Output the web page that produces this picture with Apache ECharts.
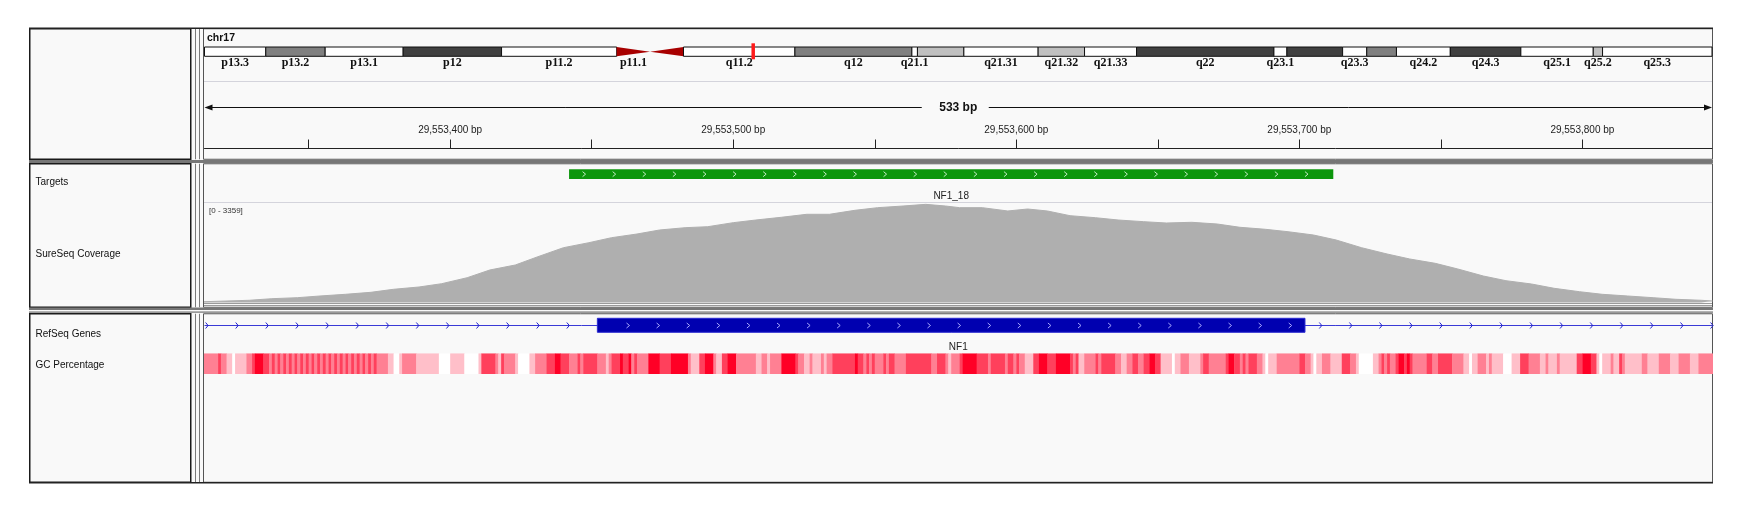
<!DOCTYPE html>
<html>
<head>
<meta charset="utf-8">
<script src="https://cdn.jsdelivr.net/npm/echarts@6/dist/echarts.min.js"></script>
<style>
html, body { margin: 0; padding: 0; background: #fff; }
#igv { width: 1749px; height: 513px; }
</style>
</head>
<body>
<div id="igv"></div>
<script>
// chromosome ideogram (hg19 chr17 bands)
var chrName = 'chr17';
var chrLength = 81195210;
var bandStarts = [0, 3300000, 6500000, 10700000, 16000000, 22200000, 24000000, 25800000, 31800000, 38100000, 38400000, 40900000,
    44900000, 47400000, 50200000, 57600000, 58300000, 61300000, 62600000, 64200000, 67100000, 70900000, 74800000, 75300000];
var bandNames = ['p13.3', 'p13.2', 'p13.1', 'p12', 'p11.2', 'p11.1', 'q11.1', 'q11.2', 'q12', 'q21.1', 'q21.2', 'q21.31',
    'q21.32', 'q21.33', 'q22', 'q23.1', 'q23.2', 'q23.3', 'q24.1', 'q24.2', 'q24.3', 'q25.1', 'q25.2', 'q25.3'];
var bandStains = ['gneg', 'gpos50', 'gneg', 'gpos75', 'gneg', 'acen', 'acen', 'gneg', 'gpos50', 'gneg', 'gpos25', 'gneg',
    'gpos25', 'gneg', 'gpos75', 'gneg', 'gpos75', 'gneg', 'gpos50', 'gneg', 'gpos75', 'gneg', 'gpos25', 'gneg'];

// visible window
var viewStart = 29553313.2;
var viewEnd = 29553845.8;
var rulerTicks = [29553350, 29553400, 29553450, 29553500, 29553550, 29553600, 29553650, 29553700, 29553750, 29553800];
var rulerLabels = [29553400, 29553500, 29553600, 29553700, 29553800];

// Targets track
var targetNames = ['NF1_18'];
var targetStarts = [29553442];
var targetEnds = [29553712];

// SureSeq Coverage (offsets from covOrigin)
var covOrigin = 29553313;
var covMax = 3359;
var covOffsets = [0, 16, 24, 33, 41, 50, 59, 67, 76, 84, 93, 101, 110, 118, 127, 136, 144, 153, 161, 170,
    178, 187, 195, 204, 213, 221, 230, 238, 247, 255, 262, 267, 275, 284, 291, 298, 306, 315, 323, 332,
    340, 349, 358, 366, 375, 383, 392, 400, 409, 418, 426, 435, 443, 452, 460, 469, 477, 486, 494, 503,
    512, 520, 529, 533];
var covValues = [27, 75, 129, 163, 221, 278, 346, 448, 526, 638, 841, 1103, 1272, 1554, 1859, 2029, 2199, 2324, 2460, 2538,
    2572, 2708, 2799, 2891, 2993, 2993, 3128, 3217, 3274, 3330, 3274, 3217, 3217, 3105, 3172, 3105, 2945, 2877, 2799, 2742,
    2697, 2721, 2663, 2552, 2484, 2402, 2290, 2121, 1859, 1646, 1476, 1330, 1137, 899, 740, 628, 482, 366, 278, 221,
    163, 109, 75, 51];

// RefSeq Genes
var geneName = 'NF1';
var geneStart = 29421945;
var geneEnd = 29709134;
var exonStarts = [29553452];
var exonEnds = [29553702];

// GC Percentage: [offset from gcOrigin, percent], each run lasts to the next offset
var gcOrigin = 29553313;
var gcLast = 534;
var gcRuns = [[0, 50], [5, 75], [6, 50], [8, 25], [10, 0], [11, 25], [15, 50], [17, 75], [18, 100], [21, 75],
    [23, 50], [24, 75], [25, 50], [26, 75], [27, 50], [28, 75], [29, 50], [30, 75], [31, 50], [32, 75],
    [33, 50], [34, 75], [35, 50], [36, 75], [37, 50], [38, 75], [39, 50], [40, 75], [41, 50], [42, 75],
    [43, 50], [44, 75], [45, 50], [46, 75], [47, 50], [48, 75], [49, 50], [50, 75], [51, 50], [52, 75],
    [53, 50], [54, 75], [55, 50], [56, 75], [57, 50], [58, 75], [59, 50], [60, 75], [61, 50],
    [65, 25], [67, 0], [69, 25], [70, 50], [75, 25], [83, 0], [87, 25], [92, 0], [97, 25], [98, 75],
    [103, 50], [104, 25], [105, 75], [106, 50], [110, 25], [111, 0], [115, 25], [117, 50], [121, 75], [124, 100],
    [126, 75], [129, 50], [132, 75], [133, 50], [134, 75], [139, 50], [142, 25], [143, 50], [144, 75], [147, 100],
    [148, 75], [150, 100], [151, 50], [152, 75], [153, 50], [157, 100], [161, 75], [165, 100], [171, 50], [172, 25],
    [175, 75], [177, 100], [180, 50], [181, 25], [183, 75], [185, 100], [188, 50], [195, 25], [197, 50], [199, 25],
    [200, 50], [204, 100], [209, 75], [210, 50], [212, 25], [214, 50], [215, 25], [218, 50], [219, 25], [220, 50],
    [222, 75], [230, 100], [231, 75], [233, 50], [234, 75], [235, 50], [236, 75], [237, 50], [240, 75], [241, 50],
    [242, 75], [244, 50], [248, 75], [257, 50], [259, 75], [262, 50], [263, 25], [264, 50], [267, 75], [268, 100],
    [273, 75], [277, 50], [278, 75], [283, 50], [284, 75], [286, 50], [287, 75], [288, 50], [290, 25], [293, 75],
    [295, 100], [298, 75], [301, 100], [306, 75], [307, 50], [308, 75], [309, 25], [311, 50], [315, 75], [316, 50],
    [317, 75], [322, 50], [324, 25], [326, 50], [328, 75], [330, 50], [332, 75], [334, 100], [336, 75], [338, 25],
    [342, 0], [343, 25], [345, 50], [348, 25], [352, 50], [353, 75], [355, 50], [361, 75], [362, 100], [364, 75],
    [366, 50], [367, 75], [368, 50], [369, 75], [372, 50], [374, 25], [375, 0], [376, 25], [379, 50], [387, 75],
    [389, 50], [391, 25], [392, 0], [393, 25], [395, 50], [398, 25], [402, 75], [405, 50], [407, 25], [408, 0],
    [413, 25], [415, 50], [416, 75], [417, 50], [418, 75], [419, 50], [421, 75], [422, 100], [424, 75], [425, 100],
    [426, 75], [427, 50], [432, 75], [434, 50], [436, 75], [441, 50], [445, 25], [447, 0], [448, 25], [450, 50],
    [453, 25], [454, 50], [455, 25], [459, 0], [462, 25], [465, 75], [468, 50], [472, 25], [474, 50], [475, 25],
    [478, 50], [479, 25], [485, 75], [487, 100], [490, 75], [492, 25], [493, 0], [494, 25], [497, 50], [498, 25],
    [500, 75], [501, 50], [502, 25], [508, 50], [510, 25], [514, 50], [518, 25], [521, 50], [525, 25], [528, 50]];

var trackNames = ['Targets', 'SureSeq Coverage', 'RefSeq Genes', 'GC Percentage'];

var stainColors = { gneg: '#ffffff', gpos25: '#c0c0c0', gpos50: '#808080', gpos75: '#404040', acen: '#a80000' };
var FONT = '"Liberation Sans", Arial, sans-serif';

var chart = echarts.init(document.getElementById('igv'), null, { renderer: 'canvas' });

var bandData = bandStarts.map(function (s, i) {
    return [s, i < bandStarts.length - 1 ? bandStarts[i + 1] : chrLength];
});
var covData = covOffsets.map(function (o, i) { return [covOrigin + o, covValues[i]]; });
var gcData = gcRuns.map(function (r, i) {
    var end = i < gcRuns.length - 1 ? gcRuns[i + 1][0] : gcLast;
    return [gcOrigin + r[0], gcOrigin + end, r[1]];
});
var targetData = targetStarts.map(function (s, i) { return [s, targetEnds[i]]; });

function fmtBp(v) {
    return Math.round(v).toString().replace(/\B(?=(\d{3})+(?!\d))/g, ',') + ' bp';
}

var lastLabelEnd = -1e9;
function renderBand(params, api) {
    if (params.dataIndex === 0) lastLabelEnd = -1e9;
    var a = api.coord([api.value(0), 1]);
    var b = api.coord([api.value(1), 0]);
    var stain = bandStains[params.dataIndex];
    var name = bandNames[params.dataIndex];
    var kids = [];
    if (stain === 'acen') {
        var midY = (a[1] + b[1]) / 2;
        var pts = name.charAt(0) === 'p'
            ? [[a[0], a[1]], [b[0], midY], [a[0], b[1]]]
            : [[b[0], a[1]], [a[0], midY], [b[0], b[1]]];
        kids.push({ type: 'polygon', shape: { points: pts }, style: { fill: stainColors.acen } });
    } else {
        kids.push({
            type: 'rect',
            shape: { x: a[0], y: a[1], width: b[0] - a[0], height: b[1] - a[1] },
            style: { fill: stainColors[stain], stroke: '#111', lineWidth: 1 }
        });
    }
    // skip labels that would crowd the previous one
    var cx = (a[0] + b[0]) / 2;
    var w = name.length * 6;
    if (cx - w / 2 > lastLabelEnd + 8) {
        kids.push({
            type: 'text',
            style: {
                x: cx, y: b[1] + 6.5, text: name, align: 'center', verticalAlign: 'middle',
                font: 'bold 12px "Liberation Serif", "Times New Roman", serif', fill: '#111'
            }
        });
        lastLabelEnd = cx + w / 2;
    }
    return { type: 'group', children: kids };
}

function renderMarker(params, api) {
    var a = api.coord([api.value(0), 1]);
    var b = api.coord([api.value(1), 0]);
    var w = Math.max(3.5, b[0] - a[0]);
    var cx = (a[0] + b[0]) / 2;
    return {
        type: 'rect',
        shape: { x: cx - w / 2, y: a[1] - 3.7, width: w, height: b[1] - a[1] + 6.7 },
        style: { fill: '#ff1a1a' }
    };
}

function renderSpan(params, api) {
    var a = api.coord([api.value(0), 0.85]);
    var b = api.coord([api.value(1), 0.85]);
    var y = Math.round(a[1]) + 0.5;
    var cx = (a[0] + b[0]) / 2;
    var txt = Math.round(api.value(1) - api.value(0)) + ' bp';
    var ls = { stroke: '#111', lineWidth: 1 };
    return {
        type: 'group',
        children: [
            { type: 'line', shape: { x1: a[0] + 4, y1: y, x2: cx - 36.5, y2: y }, style: ls },
            { type: 'line', shape: { x1: cx + 30.5, y1: y, x2: b[0] - 4, y2: y }, style: ls },
            { type: 'polygon', shape: { points: [[a[0], y], [a[0] + 8, y - 3], [a[0] + 8, y + 3]] }, style: { fill: '#111' } },
            { type: 'polygon', shape: { points: [[b[0], y], [b[0] - 8, y - 3], [b[0] - 8, y + 3]] }, style: { fill: '#111' } },
            {
                type: 'text',
                style: { x: cx, y: y, text: txt, align: 'center', verticalAlign: 'middle', font: 'bold 12px ' + FONT, fill: '#111' }
            }
        ]
    };
}

function renderTarget(params, api) {
    var a = api.coord([api.value(0), 1]);
    var b = api.coord([api.value(1), 0]);
    var cy = (a[1] + b[1]) / 2;
    var kids = [{
        type: 'rect',
        shape: { x: a[0], y: a[1], width: b[0] - a[0], height: b[1] - a[1] },
        style: { fill: '#0c960c' }
    }];
    for (var x = a[0] + 15; x < b[0] - 6; x += 30.1) {
        kids.push({
            type: 'polyline',
            shape: { points: [[x - 1.5, cy - 2.5], [x + 1.5, cy], [x - 1.5, cy + 2.5]] },
            style: { stroke: '#c4ecc4', lineWidth: 1, fill: null }
        });
    }
    kids.push({
        type: 'text',
        style: {
            x: (a[0] + b[0]) / 2, y: b[1] + 17, text: targetNames[params.dataIndex],
            align: 'center', verticalAlign: 'middle', font: '10px ' + FONT, fill: '#222'
        }
    });
    return { type: 'group', children: kids };
}

function renderGene(params, api) {
    var cs = params.coordSys;
    var g0 = Math.max(api.coord([api.value(0), 0])[0], cs.x);
    var g1 = Math.min(api.coord([api.value(1), 0])[0], cs.x + cs.width);
    var e0 = api.coord([api.value(2), 1]);
    var e1 = api.coord([api.value(3), 0]);
    var cy = Math.round(cs.y + cs.height / 2) + 0.5;
    var kids = [{ type: 'line', shape: { x1: g0, y1: cy, x2: g1, y2: cy }, style: { stroke: '#3a3ad6', lineWidth: 1 } }];
    var x;
    for (x = cs.x + 2.1; x < g1; x += 30.1) {
        if (x > e0[0] - 2 && x < e1[0] + 2) continue;
        kids.push({
            type: 'polyline',
            shape: { points: [[x - 1, cy - 3], [x + 1.5, cy], [x - 1, cy + 3]] },
            style: { stroke: '#2020d0', lineWidth: 1, fill: null }
        });
    }
    kids.push({
        type: 'rect',
        shape: { x: e0[0], y: e0[1], width: e1[0] - e0[0], height: e1[1] - e0[1] },
        style: { fill: '#0000b0', stroke: '#2a2ad0', lineWidth: 1 }
    });
    for (x = cs.x + 2.1; x < e1[0] - 4; x += 30.1) {
        if (x < e0[0] + 4) continue;
        kids.push({
            type: 'polyline',
            shape: { points: [[x - 1.5, cy - 2.5], [x + 1.5, cy], [x - 1.5, cy + 2.5]] },
            style: { stroke: '#a8a8ff', lineWidth: 1, fill: null }
        });
    }
    kids.push({
        type: 'text',
        style: {
            x: (g0 + g1) / 2, y: cs.y + cs.height + 15, text: geneName,
            align: 'center', verticalAlign: 'middle', font: '10px ' + FONT, fill: '#222'
        }
    });
    return { type: 'group', children: kids };
}

function renderGC(params, api) {
    var a = api.coord([api.value(0), 1]);
    var b = api.coord([api.value(1), 0]);
    return {
        type: 'rect',
        shape: { x: a[0], y: a[1], width: b[0] - a[0] + 0.4, height: b[1] - a[1] },
        style: { fill: api.visual('color') }
    };
}

var L = 204.5, RIGHT = 37;
function gx(i, min, max) {
    return { gridIndex: i, type: 'value', min: min, max: max, show: false };
}
function gy(i, max) {
    return { gridIndex: i, type: 'value', min: 0, max: max, show: false };
}

// panel furniture
var panels = [[28.75, 159.25], [163.75, 307.25], [313.75, 482.25]];
var deco = [{ type: 'rect', shape: { x: 29, y: 28, width: 1684, height: 455 }, style: { fill: '#f9f9f9' } }];
panels.forEach(function (p) {
    deco.push({ type: 'rect', shape: { x: 29.75, y: p[0], width: 161, height: p[1] - p[0] }, style: { fill: null, stroke: '#1a1a1a', lineWidth: 1.5 } });
    deco.push({ type: 'line', shape: { x1: 195.5, y1: p[0], x2: 195.5, y2: p[1] }, style: { stroke: '#7a7a7a', lineWidth: 1 } });
    deco.push({ type: 'line', shape: { x1: 199.5, y1: p[0], x2: 199.5, y2: p[1] }, style: { stroke: '#7a7a7a', lineWidth: 1 } });
    deco.push({ type: 'rect', shape: { x: 203.5, y: p[0], width: 1509, height: p[1] - p[0] }, style: { fill: null, stroke: '#555', lineWidth: 1 } });
});
deco.push(
    { type: 'rect', shape: { x: 29, y: 27.5, width: 1684, height: 1.5 }, style: { fill: '#222' } },
    { type: 'rect', shape: { x: 29, y: 160, width: 1684, height: 3 }, style: { fill: '#777' } },
    { type: 'rect', shape: { x: 29, y: 307.5, width: 1684, height: 2.5 }, style: { fill: '#777' } },
    { type: 'rect', shape: { x: 29, y: 311.3, width: 1684, height: 1.8 }, style: { fill: '#9a9a9a' } },
    { type: 'rect', shape: { x: 29, y: 482, width: 1684, height: 1.5 }, style: { fill: '#222' } },
    { type: 'line', shape: { x1: 204, y1: 81.5, x2: 1712, y2: 81.5 }, style: { stroke: '#d4d4dc', lineWidth: 1 } },
    { type: 'line', shape: { x1: 204, y1: 202.5, x2: 1712, y2: 202.5 }, style: { stroke: '#d4d4dc', lineWidth: 1 } },
    { type: 'line', shape: { x1: 204, y1: 303.5, x2: 1712, y2: 303.5 }, style: { stroke: '#9a9a9a', lineWidth: 1 } },
    { type: 'line', shape: { x1: 204, y1: 305.5, x2: 1712, y2: 305.5 }, style: { stroke: '#9a9a9a', lineWidth: 1 } },
    { type: 'text', style: { x: 207, y: 38.5, text: chrName, verticalAlign: 'middle', font: 'bold 10.5px ' + FONT, fill: '#111' } },
    { type: 'text', style: { x: 209, y: 210.5, text: '[0 - ' + covMax + ']', verticalAlign: 'middle', font: '8px ' + FONT, fill: '#333' } }
);
var nameY = [182.5, 254.5, 334.5, 365.5];
trackNames.forEach(function (n, i) {
    deco.push({ type: 'text', style: { x: 35.5, y: nameY[i], text: n, verticalAlign: 'middle', font: '10px ' + FONT, fill: '#111' } });
});

var option = {
    animation: false,
    backgroundColor: '#ffffff',
    grid: [
        { left: L, right: RIGHT, top: 47, height: 9.3 },      // ideogram
        { left: L, right: RIGHT, top: 100, height: 48.5 },    // ruler
        { left: L, right: RIGHT, top: 169.3, height: 9.7 },   // targets
        { left: L, right: RIGHT, top: 203.5, height: 99 },    // coverage
        { left: L, right: RIGHT, top: 318.3, height: 14 },    // genes
        { left: L, right: RIGHT, top: 353.3, height: 20.7 }   // gc
    ],
    xAxis: [
        gx(0, 0, chrLength),
        {
            gridIndex: 1, type: 'value', min: viewStart, max: viewEnd, position: 'bottom',
            axisLine: { show: true, lineStyle: { color: '#222', width: 1 } },
            axisTick: { show: true, inside: true, length: 9, customValues: rulerTicks, lineStyle: { color: '#222' } },
            axisLabel: {
                show: true, inside: true, margin: 13, customValues: rulerLabels, formatter: fmtBp,
                fontSize: 10, fontFamily: 'Liberation Sans', color: '#222'
            },
            splitLine: { show: false }
        },
        gx(2, viewStart, viewEnd),
        gx(3, viewStart, viewEnd),
        gx(4, viewStart, viewEnd),
        gx(5, viewStart, viewEnd)
    ],
    yAxis: [gy(0, 1), gy(1, 1), gy(2, 1), gy(3, covMax), gy(4, 1), gy(5, 1)],
    visualMap: [{
        type: 'continuous', show: false, seriesIndex: 6, dimension: 2, min: 0, max: 100,
        inRange: { color: ['#ffffff', '#ff0026'] }
    }],
    graphic: { elements: deco },
    series: [
        { type: 'custom', xAxisIndex: 0, yAxisIndex: 0, data: bandData, renderItem: renderBand, encode: { x: [0, 1] }, silent: true },
        { type: 'custom', xAxisIndex: 0, yAxisIndex: 0, data: [[viewStart, viewEnd]], renderItem: renderMarker, encode: { x: [0, 1] }, z: 5, silent: true },
        { type: 'custom', xAxisIndex: 1, yAxisIndex: 1, data: [[viewStart, viewEnd]], renderItem: renderSpan, encode: { x: [0, 1] }, silent: true },
        { type: 'custom', xAxisIndex: 2, yAxisIndex: 2, data: targetData, renderItem: renderTarget, encode: { x: [0, 1] }, silent: true },
        {
            type: 'line', xAxisIndex: 3, yAxisIndex: 3, data: covData, showSymbol: false, silent: true,
            lineStyle: { color: '#afafaf', width: 1 }, areaStyle: { color: '#afafaf', opacity: 1 }
        },
        {
            type: 'custom', xAxisIndex: 4, yAxisIndex: 4, renderItem: renderGene, encode: { x: [0, 1] }, silent: true,
            data: [[geneStart, geneEnd, exonStarts[0], exonEnds[0]]]
        },
        { type: 'custom', xAxisIndex: 5, yAxisIndex: 5, data: gcData, renderItem: renderGC, encode: { x: [0, 1] }, clip: true, silent: true }
    ]
};

chart.setOption(option);
</script>
</body>
</html>
